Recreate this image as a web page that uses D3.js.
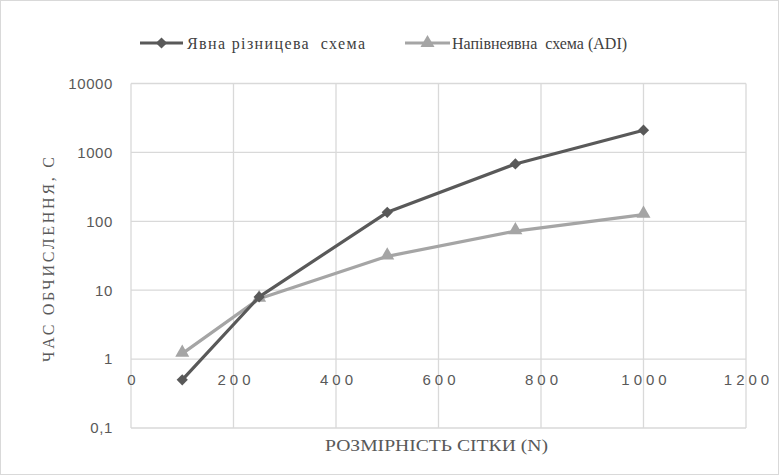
<!DOCTYPE html>
<html><head><meta charset="utf-8">
<script src="https://cdn.jsdelivr.net/npm/d3@7"></script>
<style>body{margin:0;background:#fff}svg{display:block}</style>
</head><body>
<svg id="c" width="779" height="475"></svg>
<script>
const gridN = [100, 250, 500, 750, 1000];
const explicitTimes = [0.5, 8, 135, 680, 2100];
const adiTimes = [1.2, 7.5, 31, 72, 125];
const seriesNames = ["Явна різницева  схема", "Напівнеявна  схема (ADI)"];
const xTicks = [0, 200, 400, 600, 800, 1000, 1200];
const yTicks = [0.1, 1, 10, 100, 1000, 10000];
const yTickLabels = ["0,1", "1", "10", "100", "1000", "10000"];
const xTitle = "РОЗМІРНІСТЬ СІТКИ (N)";
const yTitle = "ЧАС ОБЧИСЛЕННЯ, С";

const SERIF = "'Liberation Serif', 'DejaVu Serif', serif";
const SANS = "'Liberation Sans', Arial, sans-serif";

const svg = d3.select("#c");
const W = 779, H = 475;
const m = {l: 131, r: 746, t: 83.5, b: 428};
svg.append("rect").attr("x",0.5).attr("y",0.5).attr("width",W-1).attr("height",H-1)
  .attr("fill","#fff").attr("stroke","#d9d9d9");

const x = d3.scaleLinear().domain([0,1200]).range([m.l, m.r]);
const y = d3.scaleLog().domain([0.1,10000]).range([m.b, m.t]);

const grid = svg.append("g").attr("stroke","#d9d9d9").attr("stroke-width",1.3);
yTicks.forEach(v => grid.append("line").attr("x1",m.l).attr("x2",m.r).attr("y1",y(v)).attr("y2",y(v)));
xTicks.forEach(v => grid.append("line").attr("y1",m.t).attr("y2",m.b).attr("x1",x(v)).attr("x2",x(v)));

// Y axis labels
const yAxis = d3.axisLeft(y).tickValues(yTicks).tickFormat((d,i)=>yTickLabels[i]).tickSize(0).tickPadding(18);
const ya = svg.append("g").attr("transform",`translate(${m.l},0)`).call(yAxis);
ya.select(".domain").remove();
ya.selectAll("text").style("font-family",SANS).style("font-size","15px").attr("fill","#595959").attr("letter-spacing","0.6px");

// X axis labels (crossing at y=1)
const xAxis = d3.axisBottom(x).tickValues(xTicks).tickFormat(d3.format("d")).tickSize(0).tickPadding(15);
const xa = svg.append("g").attr("transform",`translate(0,${y(1)})`).call(xAxis);
xa.select(".domain").remove();
xa.selectAll("text").style("font-family",SANS).style("font-size","15px")
  .attr("fill","#595959").attr("letter-spacing","4px").attr("dx","2px");

// Titles
svg.append("text").attr("x",(325+548)/2).attr("y",451).attr("text-anchor","middle")
  .style("font-family",SERIF).style("font-size","16px").attr("fill","#595959")
  .attr("textLength",223).attr("lengthAdjust","spacingAndGlyphs").text(xTitle);
svg.append("text").attr("transform",`translate(54,${(157+362)/2}) rotate(-90)`).attr("text-anchor","middle")
  .style("font-family",SERIF).style("font-size","16px").attr("fill","#595959")
  .attr("textLength",205).attr("lengthAdjust","spacing").text(yTitle);

const line = d3.line().x((d,i)=>x(gridN[i])).y(d=>y(d));
const colors = ["#595959","#a5a5a5"];
const diamond = d3.symbol().type(d3.symbolDiamond2).size(80);
const tri = d3.symbol().type(d3.symbolTriangle).size(85);

// ADI series (drawn first)
svg.append("path").attr("d",line(adiTimes)).attr("fill","none").attr("stroke",colors[1]).attr("stroke-width",3.2).attr("stroke-linejoin","round");
svg.selectAll(".t").data(adiTimes).enter().append("path")
  .attr("d",tri).attr("transform",(d,i)=>`translate(${x(gridN[i])},${y(d)-1})`).attr("fill",colors[1]);
// Explicit series
svg.append("path").attr("d",line(explicitTimes)).attr("fill","none").attr("stroke",colors[0]).attr("stroke-width",3.2).attr("stroke-linejoin","round");
svg.selectAll(".dm").data(explicitTimes).enter().append("path")
  .attr("d",diamond).attr("transform",(d,i)=>`translate(${x(gridN[i])},${y(d)})`).attr("fill",colors[0]);

// Legend
const lg = svg.append("g");
const items = [{x0:140, x1:183, tx:187, tw:178, sym:diamond, c:colors[0], t:seriesNames[0]},
               {x0:405, x1:450, tx:452, tw:null, sym:tri, c:colors[1], t:seriesNames[1]}];
items.forEach(it=>{
  const ly = 43;
  lg.append("line").attr("x1",it.x0).attr("x2",it.x1).attr("y1",ly).attr("y2",ly).attr("stroke",it.c).attr("stroke-width",3.2);
  lg.append("path").attr("d",it.sym).attr("transform",`translate(${(it.x0+it.x1)/2},${ly})`).attr("fill",it.c);
  const t = lg.append("text").attr("x",it.tx).attr("y",ly+6).style("font-family",SERIF).style("font-size","16px").attr("fill","#404040")
    .style("white-space","pre").text(it.t);
  if (it.tw) t.attr("textLength",it.tw).attr("lengthAdjust","spacing");
});
</script>
</body></html>
